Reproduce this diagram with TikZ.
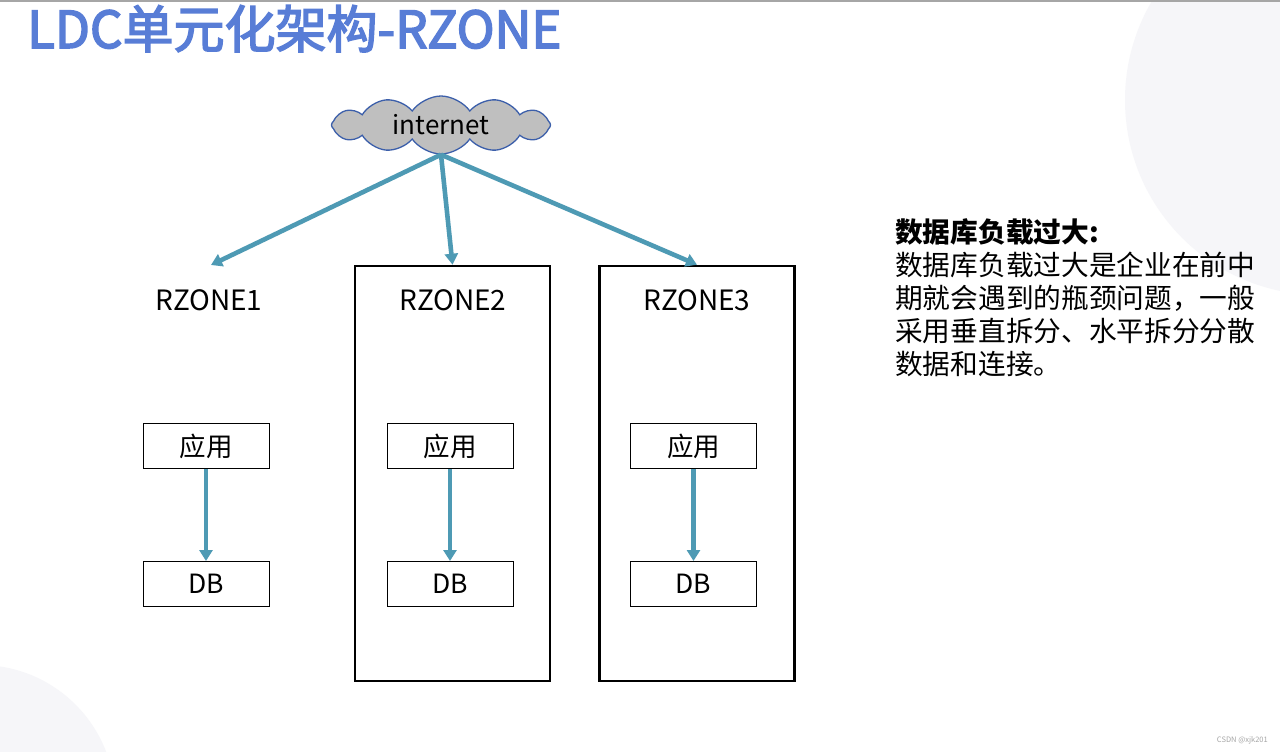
\documentclass[tikz,border=0pt]{standalone}
\usepackage{fontspec}
\setmainfont{Noto Sans CJK SC}
\newfontfamily\titlefont{Noto Sans CJK SC}[FakeBold=3]
\usetikzlibrary{shapes.symbols,arrows.meta}
\definecolor{titleblue}{RGB}{88,125,214}
\definecolor{arrowteal}{RGB}{78,154,180}
\definecolor{cloudedge}{RGB}{60,95,170}
\definecolor{cloudfill}{RGB}{191,191,191}
\definecolor{bgcircle}{RGB}{246,246,249}
\tikzset{
  conn/.style={draw=arrowteal,line width=4.6pt,-{Triangle[length=11pt,width=13pt]}},
  zonebox/.style={draw=black,line width=2.6pt,minimum width=195pt,minimum height=415pt,inner sep=0pt},
  smallbox/.style={draw=black,line width=1pt,minimum width=126pt,minimum height=45pt,inner sep=0pt,font=\fontsize{26.5}{30}\selectfont},
  zonelabel/.style={font=\fontsize{28}{32}\selectfont,inner sep=0pt},
}
\begin{document}
\begin{tikzpicture}[x=1pt,y=-1pt]
\useasboundingbox (0,0) rectangle (1280,752);
\fill[white] (0,0) rectangle (1280,752);
% background circles
\fill[bgcircle] (1320,100) circle (195);
\fill[bgcircle] (-20,800) circle (135);
\fill[gray!70] (0,0) rectangle (1280,2.5);
% title
\node[anchor=base west,inner sep=0pt,text=titleblue,font=\fontsize{51}{56}\titlefont] (title) at (27,48) {LDC单元化架构-RZONE};
% cloud
\node[cloud,cloud puffs=12,cloud puff arc=110,aspect=3.9,draw=cloudedge,fill=cloudfill,line width=1.3pt,minimum width=219pt,minimum height=58pt,inner sep=0pt,font=\fontsize{26}{30}\selectfont] (inet) at (441,125) {internet};
% zone boxes
\node[zonebox] (z2) at (452.5,473.5) {};
\node[zonebox] (z3) at (697,473.5) {};
% zone labels
\node[zonelabel] (l1) at (209,300) {RZONE1};
\node[zonelabel] (l2) at (453,300) {RZONE2};
\node[zonelabel] (l3) at (697,300) {RZONE3};
\coordinate (t1) at (211,265);
% app / db
\node[smallbox] (a1) at (206,446) {应用};
\node[smallbox] (a2) at (450,446) {应用};
\node[smallbox] (a3) at (693.5,446) {应用};
\node[smallbox] (d1) at (206,584) {DB};
\node[smallbox] (d2) at (450,584) {DB};
\node[smallbox] (d3) at (693.5,584) {DB};
% connectors
\draw[conn] (inet.south) -- (t1);
\draw[conn] (inet.south) -- (z2.north);
\draw[conn] (inet.south) -- (z3.north);
\draw[conn] (a1) -- (d1);
\draw[conn] (a2) -- (d2);
\draw[conn] (a3) -- (d3);
% right text
\node[anchor=north west,inner sep=0pt,align=left,font=\fontsize{27.7}{33.2}\selectfont] (desc) at (895,218) {{\bfseries 数据库负载过大:}\\数据库负载过大是企业在前中\\期就会遇到的瓶颈问题，一般\\采用垂直拆分、水平拆分分散\\数据和连接。};
% watermark
\node[anchor=east,inner sep=0pt,text=gray!70,font=\fontsize{7.5}{9}\selectfont] (wm) at (1268,740) {CSDN @xjk201};
\end{tikzpicture}
\end{document}
